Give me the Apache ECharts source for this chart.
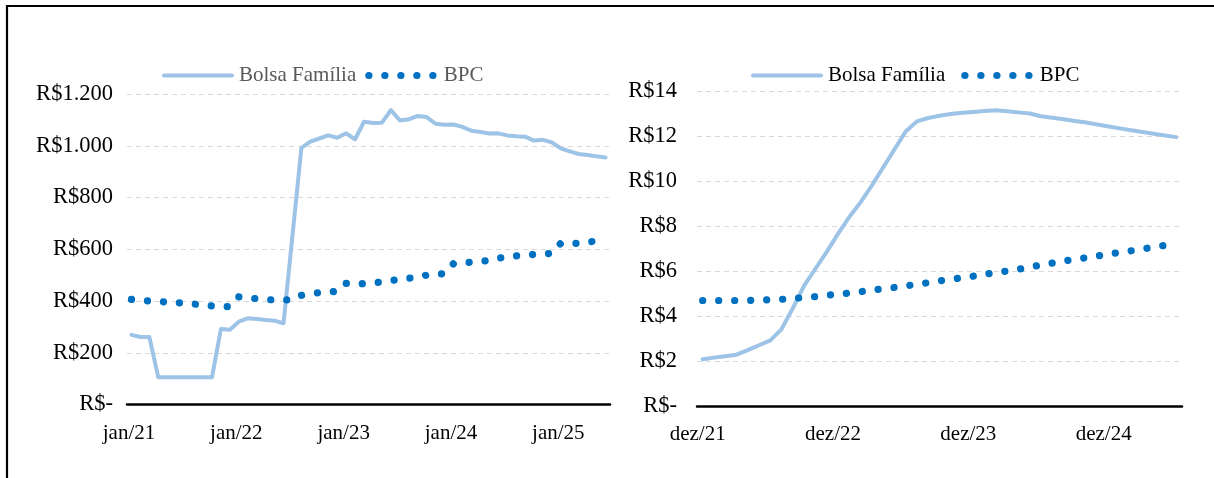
<!DOCTYPE html>
<html>
<head>
<meta charset="utf-8">
<script src="https://cdn.jsdelivr.net/npm/echarts@6/dist/echarts.min.js"></script>
<style>
  html, body { margin: 0; padding: 0; background: #fff; }
  #chart { width: 1214px; height: 478px; }
</style>
</head>
<body>
<div id="chart"></div>
<script>
// meses (pt-BR)
var monthNames = ['jan', 'fev', 'mar', 'abr', 'mai', 'jun', 'jul', 'ago', 'set', 'out', 'nov', 'dez'];
function monthRange(year, month, count) {
    var out = [];
    for (var i = 0; i < count; i++) {
        var m = (month + i) % 12;
        var y = year + Math.floor((month + i) / 12);
        out.push(monthNames[m] + '/' + String(y).slice(2));
    }
    return out;
}

// grafico esquerdo: jan/21 a jun/25
var leftMonths = monthRange(2021, 0, 54);
var leftBolsa = [
    269, 261, 261, 105, 105, 105, 105, 105, 105, 105, 292, 289,
    320, 333, 330, 327, 324, 314, 653, 992, 1016, 1028, 1040, 1031,
    1048, 1025, 1093, 1088, 1089, 1138, 1098, 1102, 1115, 1111, 1085, 1081,
    1082, 1073, 1058, 1053, 1047, 1048, 1040, 1037, 1035, 1020, 1023, 1013,
    990, 978, 968, 964, 959, 955
];
var leftBpc = [
    406, 403, 400, 398, 396, 394, 391, 388, 384, 381, 379, 378,
    416, 412, 409, 406, 404, 404, 404, 422, 428, 432, 435, 437,
    468, 467, 467, 470, 473, 479, 483, 488, 491, 500, 503, 506,
    544, 547, 550, 553, 557, 566, 569, 574, 577, 580, 582, 584,
    623, 623, 623, 628, 632, 641
];
var leftYLabels = ['R$-', 'R$200', 'R$400', 'R$600', 'R$800', 'R$1.000', 'R$1.200'];

// grafico direito: dez/21 a jun/25
var rightMonths = monthRange(2021, 11, 43);
var rightBolsa = [
    2.08, 2.15, 2.21, 2.28, 2.48, 2.7, 2.92, 3.42, 4.35, 5.35, 6.1, 6.85,
    7.65, 8.4, 9.05, 9.8, 10.6, 11.4, 12.2, 12.65, 12.8, 12.9, 12.98, 13.03,
    13.07, 13.11, 13.14, 13.1, 13.05, 13.0, 12.88, 12.81, 12.74, 12.67, 12.6, 12.51,
    12.42, 12.34, 12.26, 12.18, 12.1, 12.02, 11.95
];
var rightBpc = [
    4.69, 4.69, 4.69, 4.69, 4.69, 4.7, 4.72, 4.74, 4.78, 4.82, 4.86, 4.92,
    4.97, 5.02, 5.08, 5.15, 5.21, 5.27, 5.34, 5.41, 5.48, 5.56, 5.63, 5.7,
    5.77, 5.85, 5.93, 6.0, 6.08, 6.17, 6.27, 6.35, 6.44, 6.52, 6.59, 6.67,
    6.75, 6.83, 6.9, 6.98, 7.06, 7.14, 7.21
];
var rightYLabels = ['R$-', 'R$2', 'R$4', 'R$6', 'R$8', 'R$10', 'R$12', 'R$14'];

var FONT = '"Liberation Serif", "Times New Roman", serif';
var BF_COLOR = '#9DC3E6';
var BPC_COLOR = '#0070C0';

function xAxisOpt(grid, data, shift) {
    return {
        type: 'category',
        gridIndex: grid,
        data: data,
        boundaryGap: true,
        axisLine: { lineStyle: { color: '#000', width: 2.5 } },
        axisTick: { interval: 11, length: 6, lineStyle: { color: '#000', width: 2 } },
        axisLabel: {
            interval: 11, color: '#000', fontSize: 21, fontFamily: FONT, margin: 18,
            padding: [0, shift, 0, 0]
        },
        splitLine: { show: false }
    };
}
function yAxisOpt(grid, max, step, labels, margin) {
    return {
        type: 'value',
        gridIndex: grid,
        min: 0,
        max: max,
        interval: step,
        axisLine: { show: false },
        axisTick: { show: false },
        axisLabel: {
            color: '#000', fontSize: 22.5, fontFamily: FONT, margin: margin,
            formatter: function (v) { return labels[Math.round(v / step)]; }
        },
        splitLine: { lineStyle: { color: '#D9D9D9', width: 1, type: [5, 4] } }
    };
}
function bolsaSeries(idx, data) {
    return {
        name: 'Bolsa Família', type: 'line', xAxisIndex: idx, yAxisIndex: idx,
        data: data, symbol: 'none', smooth: false,
        lineStyle: { color: BF_COLOR, width: 4, cap: 'round', join: 'round' },
        itemStyle: { color: BF_COLOR }
    };
}
function bpcSeries(idx, data) {
    return {
        name: 'BPC', type: 'line', xAxisIndex: idx, yAxisIndex: idx,
        data: data, symbol: 'none', smooth: false,
        lineStyle: { color: BPC_COLOR, width: 7.2, type: [0.1, 15.9], cap: 'round', join: 'round' },
        itemStyle: { color: BPC_COLOR }
    };
}
function legendOpt(left, gap, textColor) {
    return {
        left: left, top: 60,
        itemWidth: 68, itemHeight: 14, itemGap: gap,
        data: ['Bolsa Família', 'BPC'],
        itemStyle: { opacity: 0 },
        lineStyle: { width: 'inherit' },
        textStyle: { color: textColor, fontSize: 21, fontFamily: FONT, padding: [0, 0, 0, 2] }
    };
}

var option = {
    animation: false,
    backgroundColor: '#fff',
    grid: [
        { left: 127, top: 94, width: 483, height: 310.5 },
        { left: 697, top: 91, width: 485, height: 315 }
    ],
    legend: [legendOpt(157, 9, '#595959'), legendOpt(746, 16, '#000')],
    xAxis: [xAxisOpt(0, leftMonths, 5), xAxisOpt(1, rightMonths, 10)],
    yAxis: [yAxisOpt(0, 1200, 200, leftYLabels, 14), yAxisOpt(1, 14, 2, rightYLabels, 20)],
    series: [
        bolsaSeries(0, leftBolsa), bpcSeries(0, leftBpc),
        bolsaSeries(1, rightBolsa), bpcSeries(1, rightBpc)
    ],
    graphic: [{
        type: 'polyline', silent: true,
        shape: { points: [[7, 478], [7, 6], [1214, 6]] },
        style: { stroke: '#000', lineWidth: 2.2, fill: null }
    }]
};

var chart = echarts.init(document.getElementById('chart'), null, { renderer: 'canvas' });
chart.setOption(option);
</script>
</body>
</html>
